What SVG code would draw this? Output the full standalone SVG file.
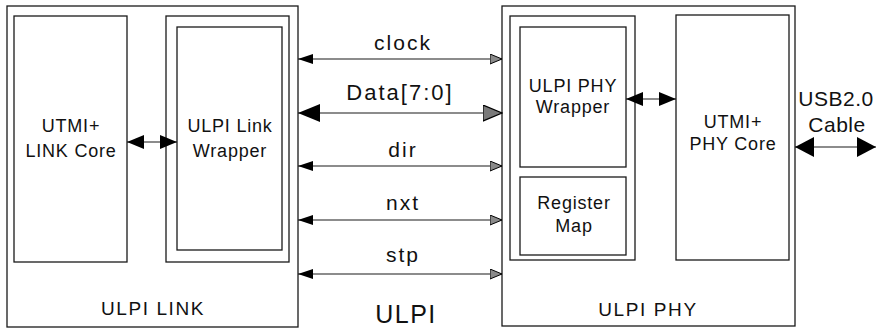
<svg xmlns="http://www.w3.org/2000/svg" width="887" height="329" viewBox="0 0 887 329">
<defs>
<style>
.box{fill:none;stroke:#1a1a1a;stroke-width:1.3}
.ln{stroke:#1a1a1a;stroke-width:1.2;fill:none}
.t{font-family:"Liberation Sans",Arial,sans-serif;fill:#111;text-anchor:middle}
.s18{font-size:18px;letter-spacing:0.8px}
.s19{font-size:19px;letter-spacing:1.6px}
.s21{font-size:21px;letter-spacing:2px}
.s22{font-size:22px;letter-spacing:2px}
.s25{font-size:25px;letter-spacing:1.5px}
.usb{font-size:21px;letter-spacing:0.5px}
</style>
<marker id="bs" viewBox="0 0 15 10" refX="15" refY="5" markerWidth="15" markerHeight="10" markerUnits="userSpaceOnUse" orient="auto-start-reverse">
<path d="M0,0 L15,5 L0,10 Z" fill="#000"/>
</marker>
<marker id="gs" viewBox="0 0 13 11" refX="12.5" refY="5.5" markerWidth="13" markerHeight="11" markerUnits="userSpaceOnUse" orient="auto-start-reverse">
<path d="M0.5,0.5 L12.5,5.5 L0.5,10.5 Z" fill="#8a8a8a" stroke="#000" stroke-width="1"/>
</marker>
<marker id="bd" viewBox="0 0 22 18" refX="22" refY="9" markerWidth="22" markerHeight="18" markerUnits="userSpaceOnUse" orient="auto-start-reverse">
<path d="M0,0 L22,9 L0,18 Z" fill="#000"/>
</marker>
<marker id="gd" viewBox="0 0 20 17" refX="19.5" refY="8.5" markerWidth="20" markerHeight="17" markerUnits="userSpaceOnUse" orient="auto-start-reverse">
<path d="M0.5,0.5 L19.5,8.5 L0.5,16.5 Z" fill="#7a7a7a" stroke="#000" stroke-width="1.2"/>
</marker>
<marker id="bi" viewBox="0 0 17 14" refX="17" refY="7" markerWidth="17" markerHeight="14" markerUnits="userSpaceOnUse" orient="auto-start-reverse">
<path d="M0,0 L17,7 L0,14 Z" fill="#000"/>
</marker>
<marker id="bu" viewBox="0 0 19 20" refX="19" refY="10" markerWidth="19" markerHeight="20" markerUnits="userSpaceOnUse" orient="auto-start-reverse">
<path d="M0,0 L19,10 L0,20 Z" fill="#000"/>
</marker>
</defs>
<rect width="887" height="329" fill="#fff"/>

<g id="ulpi-link">
<rect class="box" x="7" y="6" width="291" height="321"/>
<text class="t s19" x="153" y="315">ULPI LINK</text>
</g>
<g id="utmi-link-core">
<rect class="box" x="14" y="16" width="113" height="246"/>
<text class="t s18" x="71" y="132">UTMI+</text>
<text class="t s18" x="71" y="157">LINK Core</text>
</g>
<g id="ulpi-link-wrapper">
<rect class="box" x="166" y="16" width="123" height="246"/>
<rect class="box" x="177" y="27" width="105" height="223"/>
<text class="t s18" x="230" y="132">ULPI Link</text>
<text class="t s18" x="230" y="157">Wrapper</text>
</g>

<g id="ulpi-phy">
<rect class="box" x="502" y="6" width="293" height="320"/>
<text class="t s19" x="648" y="316">ULPI PHY</text>
</g>
<g id="ulpi-phy-wrapper">
<rect class="box" x="510" y="16" width="125" height="244"/>
<rect class="box" x="520" y="27" width="106" height="140"/>
<text class="t s18" x="573" y="92">ULPI PHY</text>
<text class="t s18" x="573" y="113">Wrapper</text>
</g>
<g id="register-map">
<rect class="box" x="520" y="177" width="106" height="78"/>
<text class="t s18" x="574" y="209">Register</text>
<text class="t s18" x="574" y="232">Map</text>
</g>
<g id="utmi-phy-core">
<rect class="box" x="676" y="15" width="113" height="245"/>
<text class="t s18" x="733" y="128">UTMI+</text>
<text class="t s18" x="733" y="150">PHY Core</text>
</g>

<g id="labels">
<text class="t s25" x="406" y="323">ULPI</text>
<text class="t usb" x="836" y="106">USB2.0</text>
<text class="t usb" x="837" y="132">Cable</text>
<text class="t s21" x="403" y="50">clock</text>
<text class="t s22" x="400" y="100">Data[7:0]</text>
<text class="t s21" x="403" y="157">dir</text>
<text class="t s21" x="403" y="210">nxt</text>
<text class="t s21" x="403" y="262">stp</text>
</g>

<g id="connectors">
<line class="ln" x1="127" y1="142" x2="177" y2="142" marker-start="url(#bi)" marker-end="url(#bi)"/>
<line class="ln" x1="626" y1="99" x2="676" y2="99" marker-start="url(#bi)" marker-end="url(#bi)"/>
<line class="ln" x1="795" y1="147" x2="876" y2="147" marker-start="url(#bu)" marker-end="url(#bu)"/>
<line class="ln" x1="298" y1="59" x2="502" y2="59" marker-start="url(#bs)" marker-end="url(#gs)"/>
<line class="ln" x1="298" y1="113" x2="502" y2="113" marker-start="url(#bd)" marker-end="url(#gd)"/>
<line class="ln" x1="298" y1="166" x2="502" y2="166" marker-start="url(#bs)" marker-end="url(#gs)"/>
<line class="ln" x1="298" y1="220" x2="502" y2="220" marker-start="url(#bs)" marker-end="url(#gs)"/>
<line class="ln" x1="298" y1="274" x2="502" y2="274" marker-start="url(#bs)" marker-end="url(#gs)"/>
</g>
</svg>
